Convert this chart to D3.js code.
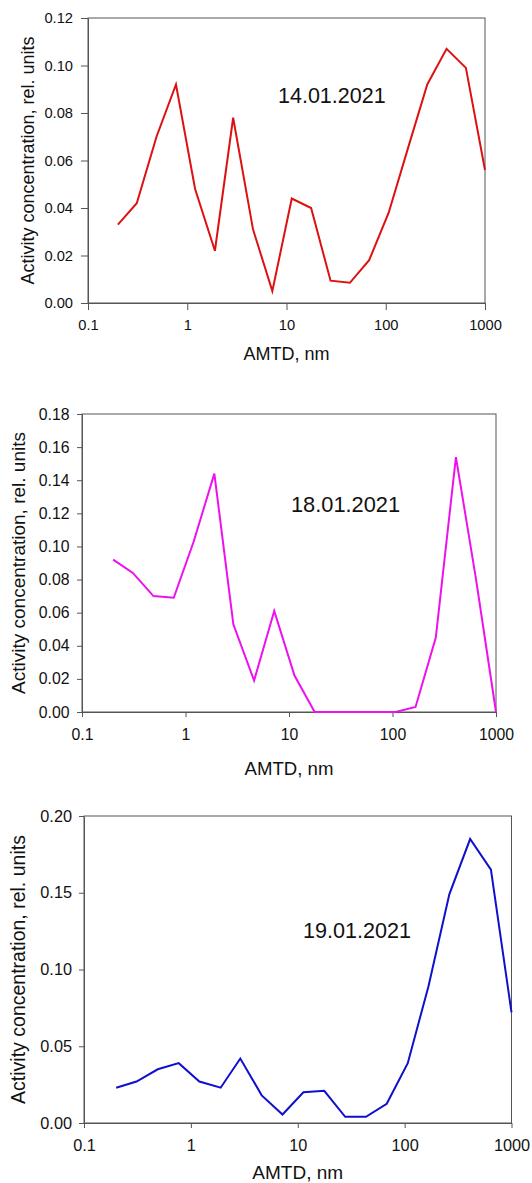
<!DOCTYPE html>
<html>
<head>
<meta charset="utf-8">
<script src="https://cdn.jsdelivr.net/npm/d3@7"></script>
<style>
  body { margin: 0; background: #fff; }
  svg text { font-family: "Liberation Sans", Arial, sans-serif; fill: #111; }
</style>
</head>
<body>
<div id="chart"></div>
<script>
// AMTD size bins, nm (same for all three dates)
const amtd = [0.2, 0.31, 0.49, 0.77, 1.2, 1.9, 2.9, 4.6, 7.2, 11.3,
              17.7, 27.8, 43.5, 68, 107, 167, 262, 410, 642, 1000];

// activity concentration, rel. units
const conc14 = [0.033, 0.042, 0.070, 0.092, 0.048, 0.022, 0.078, 0.031, 0.005, 0.044,
                0.040, 0.0094, 0.0085, 0.018, 0.038, 0.065, 0.092, 0.107, 0.099, 0.056];
const conc18 = [0.092, 0.084, 0.070, 0.069, 0.103, 0.144, 0.053, 0.019, 0.061, 0.022,
                0, 0, 0, 0, 0, 0.003, 0.045, 0.154, 0.080, 0];
const conc19 = [0.023, 0.027, 0.035, 0.039, 0.027, 0.023, 0.042, 0.018, 0.0055, 0.020,
                0.021, 0.004, 0.004, 0.0125, 0.039, 0.089, 0.149, 0.185, 0.165, 0.072];

const xTicks = [0.1, 1, 10, 100, 1000];
const yTicks14 = [0, 0.02, 0.04, 0.06, 0.08, 0.10, 0.12];
const yTicks18 = [0, 0.02, 0.04, 0.06, 0.08, 0.10, 0.12, 0.14, 0.16, 0.18];
const yTicks19 = [0, 0.05, 0.10, 0.15, 0.20];

const dates = ["14.01.2021", "18.01.2021", "19.01.2021"];

const width = 532, height = 1183;

const svg = d3.select("#chart").append("svg")
    .attr("width", width)
    .attr("height", height);

// layout of each panel (pixels)
const panels = [
  { values: conc14, yTicks: yTicks14, date: dates[0], color: "#dd1111",
    left: 88, right: 485, top: 18, bottom: 303, tick: 7, labGap: 15, font: 14.7,
    yTitleX: 27.5, yTitleSize: 18, xLabBase: 330, xTitleBase: 360, xTitleSize: 18,
    dateX: 278, dateY: 102.5, dateSize: 21.5 },
  { values: conc18, yTicks: yTicks18, date: dates[1], color: "#ee11ee",
    left: 82, right: 496, top: 414, bottom: 712, tick: 5, labGap: 12.5, font: 15.8,
    yTitleX: 18, yTitleSize: 19, xLabBase: 740, xTitleBase: 775, xTitleSize: 18.6,
    dateX: 291, dateY: 511.5, dateSize: 21.8 },
  { values: conc19, yTicks: yTicks19, date: dates[2], color: "#1010cc",
    left: 84, right: 511.5, top: 816, bottom: 1123, tick: 5, labGap: 12, font: 16.3,
    yTitleX: 18.5, yTitleSize: 19.5, xLabBase: 1151, xTitleBase: 1179, xTitleSize: 19,
    dateX: 303, dateY: 938, dateSize: 21.6 }
];

panels.forEach(p => drawPanel(p));

function drawPanel(p) {
    const g = svg.append("g");

    const x = d3.scaleLog()
        .domain([0.1, 1000])
        .range([p.left, p.right]);

    const y = d3.scaleLinear()
        .domain([0, d3.max(p.yTicks)])
        .range([p.bottom, p.top]);

    // frame
    g.append("rect")
        .attr("x", p.left)
        .attr("y", p.top)
        .attr("width", p.right - p.left)
        .attr("height", p.bottom - p.top)
        .attr("fill", "none")
        .attr("stroke", "#555")
        .attr("stroke-width", 1);

    // x axis
    const xAxis = g.append("g")
        .attr("transform", `translate(0,${p.bottom})`)
        .call(d3.axisBottom(x)
            .tickValues(xTicks)
            .tickFormat(d => String(d))
            .tickSize(p.tick)
            .tickSizeOuter(0));
    xAxis.select(".domain").attr("stroke", "#555");
    xAxis.selectAll(".tick line").attr("stroke", "#555");
    xAxis.selectAll(".tick text")
        .attr("y", null)
        .attr("dy", null)
        .attr("transform", `translate(0,${p.xLabBase - p.bottom})`)
        .style("font-size", p.font + "px")
        .attr("fill", "#111");

    // y axis
    const yAxis = g.append("g")
        .attr("transform", `translate(${p.left},0)`)
        .call(d3.axisLeft(y)
            .tickValues(p.yTicks)
            .tickFormat(d3.format(".2f"))
            .tickSize(p.tick)
            .tickSizeOuter(0)
            .tickPadding(p.labGap - p.tick));
    yAxis.select(".domain").attr("stroke", "#555");
    yAxis.selectAll(".tick line").attr("stroke", "#555");
    yAxis.selectAll(".tick text")
        .style("font-size", p.font + "px")
        .attr("fill", "#111");

    // data line
    const line = d3.line()
        .x((d, i) => x(amtd[i]))
        .y(d => y(d));

    g.append("path")
        .datum(p.values)
        .attr("d", line)
        .attr("fill", "none")
        .attr("stroke", p.color)
        .attr("stroke-width", 2)
        .attr("stroke-linejoin", "miter");

    // date label
    g.append("text")
        .attr("x", p.dateX)
        .attr("y", p.dateY)
        .style("font-size", p.dateSize + "px")
        .text(p.date);

    // axis titles
    g.append("text")
        .attr("x", (p.left + p.right) / 2)
        .attr("y", p.xTitleBase)
        .attr("text-anchor", "middle")
        .style("font-size", p.xTitleSize + "px")
        .text("AMTD, nm");

    g.append("text")
        .attr("transform", `translate(${p.yTitleX},${(p.top + p.bottom) / 2}) rotate(-90)`)
        .attr("text-anchor", "middle")
        .attr("dy", "0.35em")
        .style("font-size", p.yTitleSize + "px")
        .text("Activity concentration, rel. units");
}
</script>
</body>
</html>
